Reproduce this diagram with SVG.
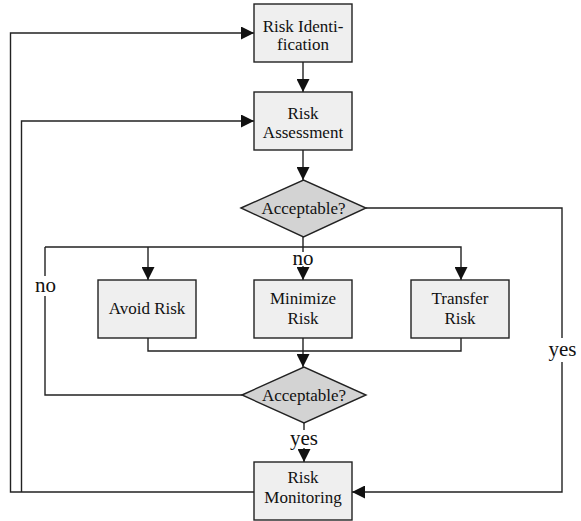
<svg xmlns="http://www.w3.org/2000/svg" width="581" height="521" viewBox="0 0 581 521" font-family="Liberation Serif">
<style>
.box{fill:#efefef;stroke:#222;stroke-width:1.4}
.dia{fill:#d3d3d3;stroke:#222;stroke-width:1.4}
.t{font-size:17px;fill:#111;text-anchor:middle}
.lbl{font-size:21px;fill:#111;text-anchor:middle}
.c{fill:none;stroke:#222;stroke-width:1.4}
.bg{fill:#fff}
</style>
<defs>
<marker id="ah" markerUnits="userSpaceOnUse" markerWidth="13" markerHeight="13" refX="13" refY="6.5" orient="auto">
<path d="M0,0 L13,6.5 L0,13 z" fill="#111"/>
</marker>
</defs>
<rect width="581" height="521" fill="#fff"/>
<g id="connectors">
<path class="c" d="M303,62 V92" marker-end="url(#ah)"/>
<path class="c" d="M303,150 V180" marker-end="url(#ah)"/>
<path class="c" d="M303,237 V280" marker-end="url(#ah)"/>
<path class="c" d="M148,247 V280" marker-end="url(#ah)"/>
<path class="c" d="M45,247 H461 V280" marker-end="url(#ah)"/>
<path class="c" d="M242,395 H45 V247"/>
<path class="c" d="M366,208 H562 V492 H352" marker-end="url(#ah)"/>
<path class="c" d="M148,338 V351 H461 V338"/>
<path class="c" d="M303,338 V367" marker-end="url(#ah)"/>
<path class="c" d="M304,423 V462" marker-end="url(#ah)"/>
<path class="c" d="M254,492 H10.5 V33 H254" marker-end="url(#ah)"/>
<path class="c" d="M21.5,492 V121 H254" marker-end="url(#ah)"/>
<rect class="bg" x="32" y="276" width="27" height="20"/>
<text class="lbl" x="45.5" y="292" font-family="Liberation Serif">no</text>
<rect class="bg" x="291" y="252" width="25" height="14"/>
<text class="lbl" x="303" y="265" font-family="Liberation Serif">no</text>
<rect class="bg" x="547" y="338" width="31" height="24"/>
<text class="lbl" x="562.5" y="356" font-family="Liberation Serif">yes</text>
<rect class="bg" x="289" y="430" width="31" height="18"/>
<text class="lbl" x="304" y="445" font-family="Liberation Serif">yes</text>
</g>
<g id="risk-identification" font-family="Liberation Serif">
<rect class="box" x="254" y="4" width="98" height="58"/>
<text class="t" x="303" y="31.5">Risk Identi-</text>
<text class="t" x="303" y="49.5">fication</text>
</g>
<g id="risk-assessment" font-family="Liberation Serif">
<rect class="box" x="254" y="92" width="98" height="58"/>
<text class="t" x="303" y="119">Risk</text>
<text class="t" x="303" y="138">Assessment</text>
</g>
<g id="acceptable-1" font-family="Liberation Serif">
<polygon class="dia" points="241,208 303.5,180 366,208 303.5,237"/>
<text class="t" x="303.5" y="214">Acceptable?</text>
</g>
<g id="avoid-risk" font-family="Liberation Serif">
<rect class="box" x="98" y="280" width="98" height="58"/>
<text class="t" x="147" y="314">Avoid Risk</text>
</g>
<g id="minimize-risk" font-family="Liberation Serif">
<rect class="box" x="254" y="280" width="98" height="58"/>
<text class="t" x="303" y="304">Minimize</text>
<text class="t" x="303" y="324">Risk</text>
</g>
<g id="transfer-risk" font-family="Liberation Serif">
<rect class="box" x="411" y="280" width="98" height="58"/>
<text class="t" x="460" y="304">Transfer</text>
<text class="t" x="460" y="324">Risk</text>
</g>
<g id="acceptable-2" font-family="Liberation Serif">
<polygon class="dia" points="242,395 304,367 366,395 304,423"/>
<text class="t" x="304" y="401">Acceptable?</text>
</g>
<g id="risk-monitoring" font-family="Liberation Serif">
<rect class="box" x="254" y="462" width="98" height="58"/>
<text class="t" x="303" y="483">Risk</text>
<text class="t" x="303" y="503">Monitoring</text>
</g>
</svg>
